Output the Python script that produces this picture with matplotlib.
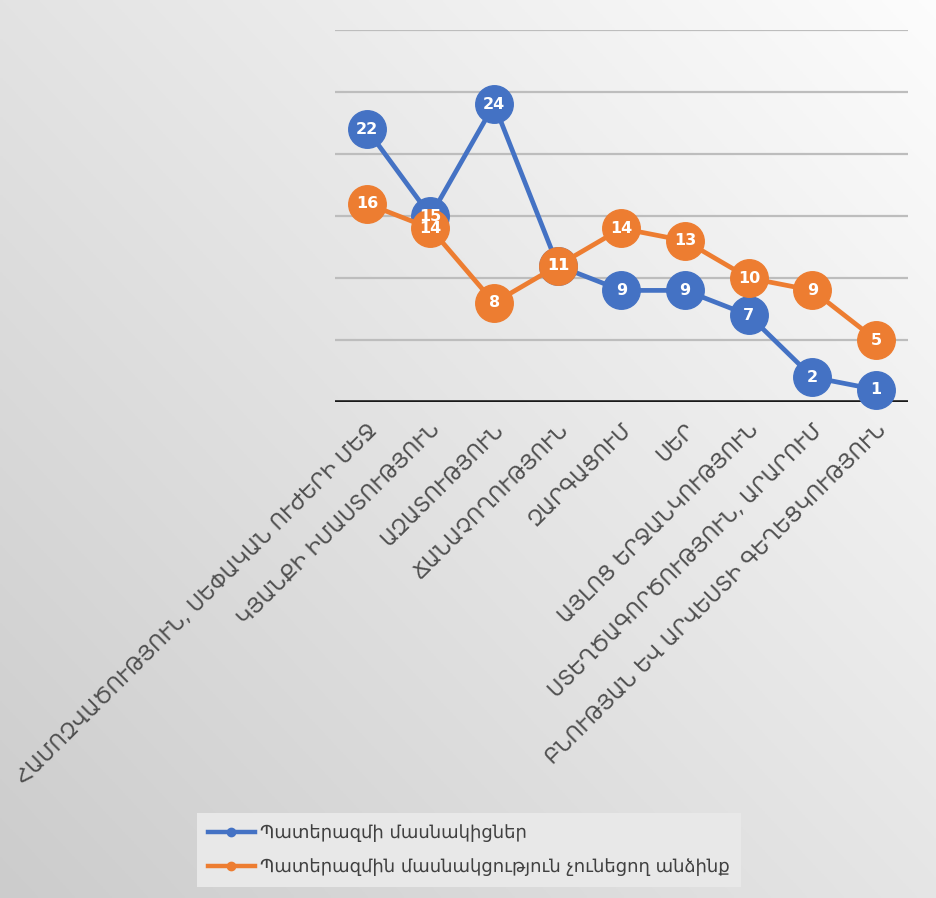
import numpy as np
import matplotlib
matplotlib.use("Agg")
import matplotlib.pyplot as plt

# --- data ---
categories = [
    "ՀԱՄՈԶՎԱԾՈՒԹՅՈՒՆ, ՍԵՓԱԿԱՆ ՈՒԺԵՐԻ ՄԵՋ",
    "ԿՅԱՆՔԻ ԻՄԱՍՏՈՒԹՅՈՒՆ",
    "ԱԶԱՏՈՒԹՅՈՒՆ",
    "ՃԱՆԱՉՈՂՈՒԹՅՈՒՆ",
    "ԶԱՐԳԱՑՈՒՄ",
    "ՍԵՐ",
    "ԱՅԼՈՑ ԵՐՋԱՆԿՈՒԹՅՈՒՆ",
    "ՍՏԵՂԾԱԳՈՐԾՈՒԹՅՈՒՆ, ԱՐԱՐՈՒՄ",
    "ԲՆՈՒԹՅԱՆ ԵՎ ԱՐՎԵՍՏԻ ԳԵՂԵՑԿՈՒԹՅՈՒՆ",
]
participants = [22, 15, 24, 11, 9, 9, 7, 2, 1]
non_participants = [16, 14, 8, 11, 14, 13, 10, 9, 5]
series_names = [
    "Պատերազմի մասնակիցներ",
    "Պատերազմին մասնակցություն չունեցող անձինք",
]

BLUE = "#4472C4"
ORANGE = "#ED7D31"

plt.rcParams["font.family"] = ["DejaVu Sans"]

fig = plt.figure(figsize=(9.37, 8.98), dpi=100)

# gray gradient background, lighter towards the top right
bg = fig.add_axes([0, 0, 1, 1], zorder=-10)
xx, yy = np.meshgrid(np.linspace(0, 1, 300), np.linspace(0, 1, 300))
shade = 0.99 - 0.10 * (1 - xx) - 0.09 * yy
bg.imshow(np.dstack([shade] * 3), extent=(0, 1, 0, 1), origin="upper", aspect="auto")
bg.axis("off")

ax = fig.add_axes([335 / 937, 1 - 402 / 898, 573 / 937, 372 / 898])
ax.set_facecolor("none")
x = np.arange(len(categories))

ax.set_xlim(-0.5, len(categories) - 0.5)
ax.set_ylim(0, 30)
for v in range(5, 31, 5):
    ax.axhline(v, color="#bdbdbd", lw=1.6, zorder=1)
ax.axhline(0, color="#1a1a1a", lw=2.6, zorder=2)

for vals, col, name, z in [(participants, BLUE, series_names[0], 3),
                           (non_participants, ORANGE, series_names[1], 5)]:
    ax.plot(x, vals, color=col, lw=3.4, marker="o", markersize=27,
            markeredgecolor=col, label=name, zorder=z, clip_on=False)
    # data labels sit above every marker (15 and 14 overlap, as in the original)
    for xi, v in zip(x, vals):
        ax.text(xi, v, str(v), color="white", fontsize=11.5, fontweight="bold",
                ha="center", va="center", zorder=10)

for s in ax.spines.values():
    s.set_visible(False)
ax.set_yticks([])
ax.set_xticks(x)
ax.set_xticklabels(categories, rotation=45, ha="right", rotation_mode="anchor",
                   fontsize=15, color="#505050")
ax.tick_params(axis="x", length=0, pad=13)

# legend entries with small markers like the reference
handles = [plt.Line2D([], [], color=c, lw=3.2, marker="o", markersize=6)
           for c in (BLUE, ORANGE)]
leg = fig.legend(handles, series_names, loc="upper left",
                 bbox_to_anchor=(188 / 937, 1 - 804 / 898),
                 fontsize=13, frameon=True, fancybox=False,
                 handlelength=2.6, handletextpad=0.3, labelspacing=0.9,
                 borderpad=0.6, labelcolor="#404040")
leg.get_frame().set_facecolor("#e8e8e8")
leg.get_frame().set_edgecolor("none")
leg.get_frame().set_alpha(1)

fig.savefig("out.png", dpi=100)
